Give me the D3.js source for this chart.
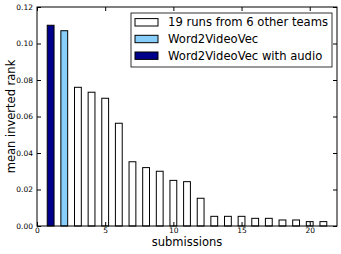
<!DOCTYPE html>
<html>
<head>
<meta charset="utf-8">
<script src="https://cdn.jsdelivr.net/npm/d3@7"></script>
<style>
  body { margin: 0; background: #fff; }
  text { font-family: "DejaVu Sans", sans-serif; }
</style>
</head>
<body>
<div id="chart"></div>
<script>
// submissions, bar values (mean inverted rank)
const submissions = d3.range(1, 22);
const rankValues = [0.110, 0.107, 0.076, 0.0733, 0.070, 0.0563, 0.0352, 0.032, 0.030, 0.025,
  0.0243, 0.0152, 0.0053, 0.0053, 0.0053, 0.0042, 0.0042, 0.0033, 0.0033, 0.0024, 0.0024];
const groups = ["audio", "video"].concat(d3.range(19).map(() => "other"));
const legendLabels = ["19 runs from 6 other teams", "Word2VideoVec", "Word2VideoVec with audio"];
const legendKeys = ["other", "video", "audio"];
const xTicks = [0, 5, 10, 15, 20];
const yTicks = [0, 0.02, 0.04, 0.06, 0.08, 0.10, 0.12];

const fills = { other: "#ffffff", video: "#87cefa", audio: "#00008b" };

const width = 341, height = 254;
const margin = { top: 7, right: 4, bottom: 28, left: 37 };

const x = d3.scaleLinear([0, 22], [margin.left, width - margin.right]);
const y = d3.scaleLinear([0, 0.12], [height - margin.bottom, margin.top]);

const svg = d3.select("#chart").append("svg")
  .attr("width", width)
  .attr("height", height);

svg.append("g")
  .selectAll("rect")
  .data(submissions)
  .join("rect")
  .attr("x", (d) => x(d - 0.25))
  .attr("width", (d) => x(d + 0.25) - x(d - 0.25))
  .attr("y", (d, i) => y(rankValues[i]))
  .attr("height", (d, i) => y(0) - y(rankValues[i]))
  .attr("fill", (d, i) => fills[groups[i]])
  .attr("stroke", "#000")
  .attr("stroke-width", 1);

// axes, ticks pointing inward on all four sides
const fmtY = d3.format(".2f");
svg.append("g")
  .attr("transform", `translate(0,${y(0)})`)
  .call(d3.axisBottom(x).tickValues(xTicks).tickSizeInner(-4).tickSizeOuter(0).tickPadding(1.5))
  .call((g) => g.select(".domain").remove());
svg.append("g")
  .attr("transform", `translate(0,${margin.top})`)
  .call(d3.axisTop(x).tickValues(xTicks).tickSizeInner(-4).tickSizeOuter(0).tickFormat(""))
  .call((g) => g.select(".domain").remove());
svg.append("g")
  .attr("transform", `translate(${margin.left},0)`)
  .call(d3.axisLeft(y).tickValues(yTicks).tickFormat(fmtY).tickSizeInner(-4).tickSizeOuter(0).tickPadding(4))
  .call((g) => g.select(".domain").remove());
svg.append("g")
  .attr("transform", `translate(${width - margin.right},0)`)
  .call(d3.axisRight(y).tickValues(yTicks).tickSizeInner(-4).tickSizeOuter(0).tickFormat(""))
  .call((g) => g.select(".domain").remove());

svg.selectAll(".tick text")
  .attr("font-family", "DejaVu Sans, sans-serif")
  .attr("font-size", 7.5)
  .attr("fill", "#000");
svg.selectAll(".tick line").attr("stroke", "#000");

svg.append("rect")
  .attr("x", margin.left)
  .attr("y", margin.top)
  .attr("width", width - margin.right - margin.left)
  .attr("height", y(0) - margin.top)
  .attr("fill", "none")
  .attr("stroke", "#000")
  .attr("stroke-width", 1);

// axis labels
svg.append("text")
  .attr("x", (margin.left + width - margin.right) / 2)
  .attr("y", height - 8)
  .attr("text-anchor", "middle")
  .attr("font-size", 11.5)
  .text("submissions");
svg.append("text")
  .attr("transform", `translate(15,${(margin.top + y(0)) / 2}) rotate(-90)`)
  .attr("text-anchor", "middle")
  .attr("font-size", 11.5)
  .text("mean inverted rank");

// legend
const legend = svg.append("g").attr("transform", "translate(131,13)");
legend.append("rect")
  .attr("width", 201)
  .attr("height", 54)
  .attr("fill", "#fff")
  .attr("stroke", "#000")
  .attr("stroke-width", 0.8);
const item = legend.selectAll("g")
  .data(legendKeys)
  .join("g")
  .attr("transform", (d, i) => `translate(4,${9.3 + i * 16.7})`);
item.append("rect")
  .attr("y", -3.7)
  .attr("width", 23)
  .attr("height", 7.4)
  .attr("fill", (d) => fills[d])
  .attr("stroke", "#000");
item.append("text")
  .attr("x", 33)
  .attr("dy", "0.36em")
  .attr("font-size", 11.6)
  .text((d, i) => legendLabels[i]);
</script>
</body>
</html>
